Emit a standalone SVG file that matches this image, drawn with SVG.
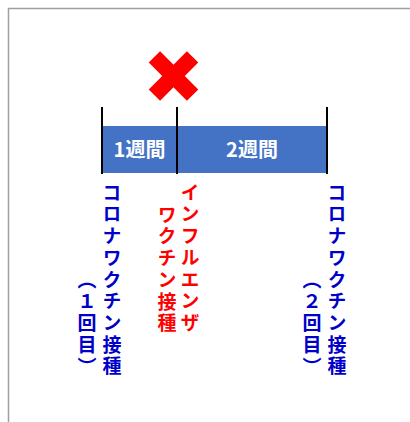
<svg xmlns="http://www.w3.org/2000/svg" width="410" height="422" viewBox="0 0 410 422">
<style>
.v{font-family:"Noto Sans CJK JP",sans-serif;font-weight:bold;font-size:19px;writing-mode:vertical-rl;letter-spacing:2.7px}
.b{fill:#0000C8}
.r{fill:#FF0000}
.w{font-family:"Noto Sans CJK JP",sans-serif;font-weight:bold;font-size:20px;fill:#fff;text-anchor:middle}
.tick{stroke:#000;stroke-width:2}
</style>
<rect x="0" y="0" width="410" height="422" fill="#fff"/>
<path d="M8.5 422 V8.5 H410" fill="none" stroke="#A0A0A0" stroke-width="1.5"/>
<g id="cross">
<g transform="translate(173.5,76) rotate(45)" fill="#FF0000">
<rect x="-27" y="-8" width="54" height="16"/>
<rect x="-8" y="-27" width="16" height="54"/>
</g>
</g>
<g id="bar">
<rect x="102" y="126" width="225" height="47" fill="#4472C4"/>
<text class="w" x="139.5" y="157">1週間</text>
<text class="w" x="252" y="157">2週間</text>
</g>
<g id="connectors">
<line class="tick" x1="102" y1="107" x2="102" y2="174"/>
<line class="tick" x1="177" y1="107" x2="177" y2="174"/>
<line class="tick" x1="327" y1="107" x2="327" y2="174"/>
</g>
<g id="label1">
<text class="v b" x="112" y="183">コロナワクチン接種</text>
<text class="v b" x="87" y="270">（１回目）</text>
</g>
<g id="label2">
<text class="v r" x="190" y="183">インフルエンザ</text>
<text class="v r" x="167" y="205">ワクチン接種</text>
</g>
<g id="label3">
<text class="v b" x="337" y="183">コロナワクチン接種</text>
<text class="v b" x="312" y="270">（２回目）</text>
</g>
</svg>
